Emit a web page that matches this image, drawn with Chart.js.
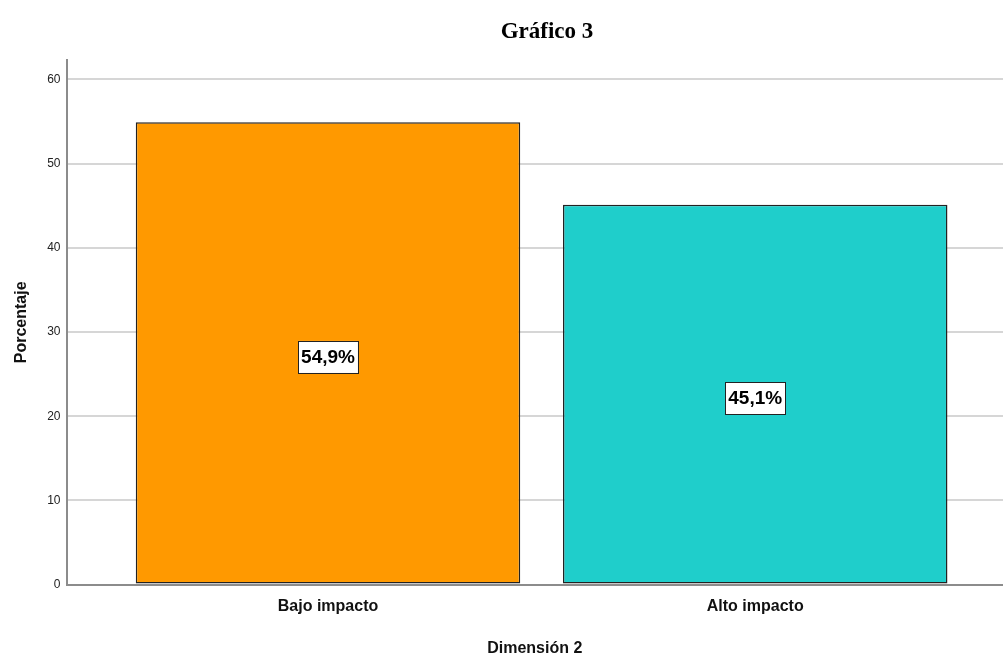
<!DOCTYPE html>
<html>
<head>
<meta charset="utf-8">
<script src="https://cdn.jsdelivr.net/npm/chart.js@4.4.1/dist/chart.umd.min.js"></script>
<style>
  html, body { margin: 0; padding: 0; background: #fff; }
  #wrap { width: 1003px; height: 658px; position: relative; }
</style>
</head>
<body>
<div id="wrap"><canvas id="chart"></canvas></div>
<script>
const categories = ["Bajo impacto", "Alto impacto"];
const percentages = [54.9, 45.1];
const barColors = ["#ff9900", "#1fcecb"];
const yTicks = [0, 10, 20, 30, 40, 50, 60];

// title drawn by hand so it sits where the original has it
const titlePlugin = {
    id: "titleText",
    afterDraw(chart) {
        const c = chart.ctx;
        c.save();
        c.font = "bold 23px 'Liberation Serif', 'Times New Roman', serif";
        c.fillStyle = "#000";
        c.textAlign = "center";
        c.textBaseline = "middle";
        c.fillText("Gráfico 3", 547, 32);
        c.restore();
    },
};

// boxed value labels in the middle of each bar
const boxLabels = {
    id: "boxLabels",
    afterDatasetsDraw(chart) {
        const c = chart.ctx;
        const meta = chart.getDatasetMeta(0);
        c.save();
        c.font = "bold 19px 'Liberation Sans', Arial, sans-serif";
        c.textAlign = "center";
        c.textBaseline = "middle";
        meta.data.forEach((bar, i) => {
            const txt = percentages[i].toFixed(1).replace(".", ",") + "%";
            const w = c.measureText(txt).width + 6;
            const h = 32;
            const cy = (bar.y + bar.base) / 2 + 4;
            c.fillStyle = "#fff";
            c.fillRect(bar.x - w / 2, cy - h / 2, w, h);
            c.strokeStyle = "#222";
            c.lineWidth = 1;
            c.strokeRect(Math.round(bar.x - w / 2) + 0.5, Math.round(cy - h / 2) + 0.5, Math.round(w), h);
            c.fillStyle = "#000";
            c.fillText(txt, bar.x, cy + 1);
        });
        c.restore();
    },
};

new Chart(document.getElementById("chart"), {
    type: "bar",
    data: {
        datasets: [
            {
                data: percentages.map((v, i) => ({ x: i, y: v })),
                backgroundColor: barColors,
                borderColor: "#222",
                borderWidth: 1.5,
                borderSkipped: false,
                barPercentage: 0.9,
                categoryPercentage: 1,
            },
        ],
    },
    plugins: [titlePlugin, boxLabels],
    options: {
        responsive: true,
        maintainAspectRatio: false,
        animation: false,
        layout: { padding: { top: 60, right: 0, left: 12, bottom: 0 } },
        plugins: {
            legend: { display: false },
            tooltip: { enabled: false },
        },
        scales: {
            x: {
                type: "linear",
                offset: false,
                min: -0.612,
                max: 1.58,
                afterBuildTicks: (axis) => {
                    axis.ticks = categories.map((_, i) => ({ value: i }));
                },
                grid: { display: false, drawTicks: false, offset: false },
                border: { display: true, color: "#8c8c8c", width: 2 },
                ticks: {
                    color: "#111",
                    padding: 12,
                    font: { family: "'Liberation Sans', Arial, sans-serif", size: 16, weight: "bold" },
                    callback: (v) => categories[v] || "",
                    maxRotation: 0,
                },
                title: {
                    display: true,
                    text: "Dimensión 2",
                    color: "#111",
                    padding: { top: 11, bottom: 0 },
                    font: { family: "'Liberation Sans', Arial, sans-serif", size: 16, weight: "bold" },
                },
            },
            y: {
                min: 0,
                max: 62.3,
                afterBuildTicks: (axis) => {
                    axis.ticks = yTicks.map((v) => ({ value: v }));
                },
                grid: { color: "#d6d6d6", lineWidth: 2, drawTicks: false },
                border: { display: true, color: "#8c8c8c", width: 2 },
                ticks: {
                    color: "#222",
                    padding: 6,
                    font: { family: "'Liberation Sans', Arial, sans-serif", size: 12 },
                },
                title: {
                    display: true,
                    text: "Porcentaje",
                    color: "#111",
                    padding: { top: 0, bottom: 10 },
                    font: { family: "'Liberation Sans', Arial, sans-serif", size: 16, weight: "bold" },
                },
            },
        },
    },
});
</script>
</body>
</html>
